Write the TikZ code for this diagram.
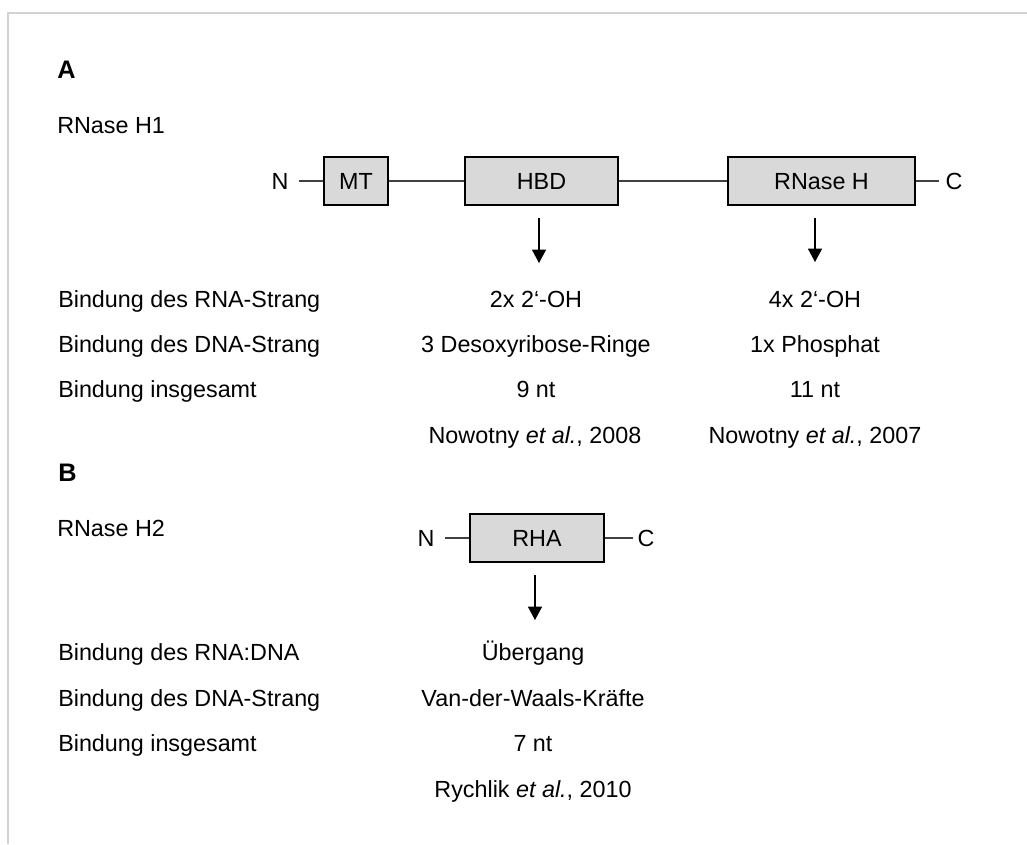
\documentclass[tikz,border=0pt]{standalone}
\usepackage{fontspec}
\setmainfont{Liberation Sans}
\usetikzlibrary{arrows.meta}
\definecolor{boxgray}{HTML}{D9D9D9}
\definecolor{framegray}{HTML}{D2D2D2}
\definecolor{linegray}{HTML}{404040}
\tikzset{%
    dom/.style={draw=black, line width=1.5pt, fill=boxgray, minimum height=36.5pt, inner sep=0pt,
        text height=12.5pt, text depth=0pt},
    term/.style={inner xsep=8pt, inner ysep=0pt, text height=12.5pt, text depth=0pt},
    lbl/.style={anchor=base west, inner sep=0pt},
    sec/.style={anchor=base west, inner sep=0pt, font=\fontsize{19}{22}\selectfont\bfseries},
    val/.style={anchor=base, inner sep=0pt},
    link/.style={draw=linegray, line width=0.8pt},
    arr/.style={-{Triangle[width=10.5pt,length=10pt]}, line width=0.8pt, shorten <=9pt}
}
\begin{document}
\begin{tikzpicture}[x=0.75pt, y=-0.75pt, font=\fontsize{17.5}{20}\selectfont]
        \useasboundingbox (0,0) rectangle (1027,844);
        \draw[framegray, line width=1pt] (8,844) -- (8,13) -- (1027,13);
        % part A
        \node[sec] (hA) at (57,78) {A};
        \node[lbl] (pA) at (57,133) {RNase H1};
        \node[term] (nA) at (280,181) {N};
        \node[dom, minimum width=48pt] (mt) at (356,181) {MT};
        \node[dom, minimum width=114.75pt] (hbd) at (541.5,181) {HBD};
        \node[dom, minimum width=140pt] (rnh) at (821.5,181) {RNase H};
        \node[term, inner xsep=4.5pt] (cA) at (954,181) {C};
        \draw[link] (nA) -- (mt) (mt) -- (hbd) (hbd) -- (rnh) (rnh) -- (cA);
        \coordinate (hbdtip) at (539,263);
        \coordinate (rnhtip) at (815,262);
        \draw[arr] (hbd.south -| hbdtip) -- (hbdtip);
        \draw[arr] (rnh.south -| rnhtip) -- (rnhtip);
        \node[lbl] (lA1) at (58,307) {Bindung des RNA-Strang};
        \node[lbl] (lA2) at (58,352) {Bindung des DNA-Strang};
        \node[lbl] (lA3) at (58,397) {Bindung insgesamt};
        \node[val] (h1) at (536,307) {2x 2‘-OH};
        \node[val] (h2) at (536,352) {3 Desoxyribose-Ringe};
        \node[val] (h3) at (536,397) {9 nt};
        \node[val] (h4) at (535,443) {Nowotny \textit{et al.}, 2008};
        \node[val] (r1) at (815,307) {4x 2‘-OH};
        \node[val] (r2) at (815,352) {1x Phosphat};
        \node[val] (r3) at (815,397) {11 nt};
        \node[val] (r4) at (815,443) {Nowotny \textit{et al.}, 2007};
        % part B
        \node[sec] (hB) at (58,481) {B};
        \node[lbl] (pB) at (57,536) {RNase H2};
        \node[term] (nB) at (426,538) {N};
        \node[dom, minimum width=100.5pt] (rha) at (537,538) {RHA};
        \node[term, inner xsep=3pt] (cB) at (646,538) {C};
        \draw[link] (nB) -- (rha) (rha) -- (cB);
        \coordinate (rhatip) at (535,620);
        \draw[arr] (rha.south -| rhatip) -- (rhatip);
        \node[lbl] (lB1) at (58,660) {Bindung des RNA:DNA};
        \node[lbl] (lB2) at (58,706) {Bindung des DNA-Strang};
        \node[lbl] (lB3) at (58,751) {Bindung insgesamt};
        \node[val] (a1) at (533,660) {Übergang};
        \node[val] (a2) at (533,706) {Van-der-Waals-Kräfte};
        \node[val] (a3) at (533,751) {7 nt};
        \node[val] (a4) at (533,797) {Rychlik \textit{et al.}, 2010};
\end{tikzpicture}
\end{document}
